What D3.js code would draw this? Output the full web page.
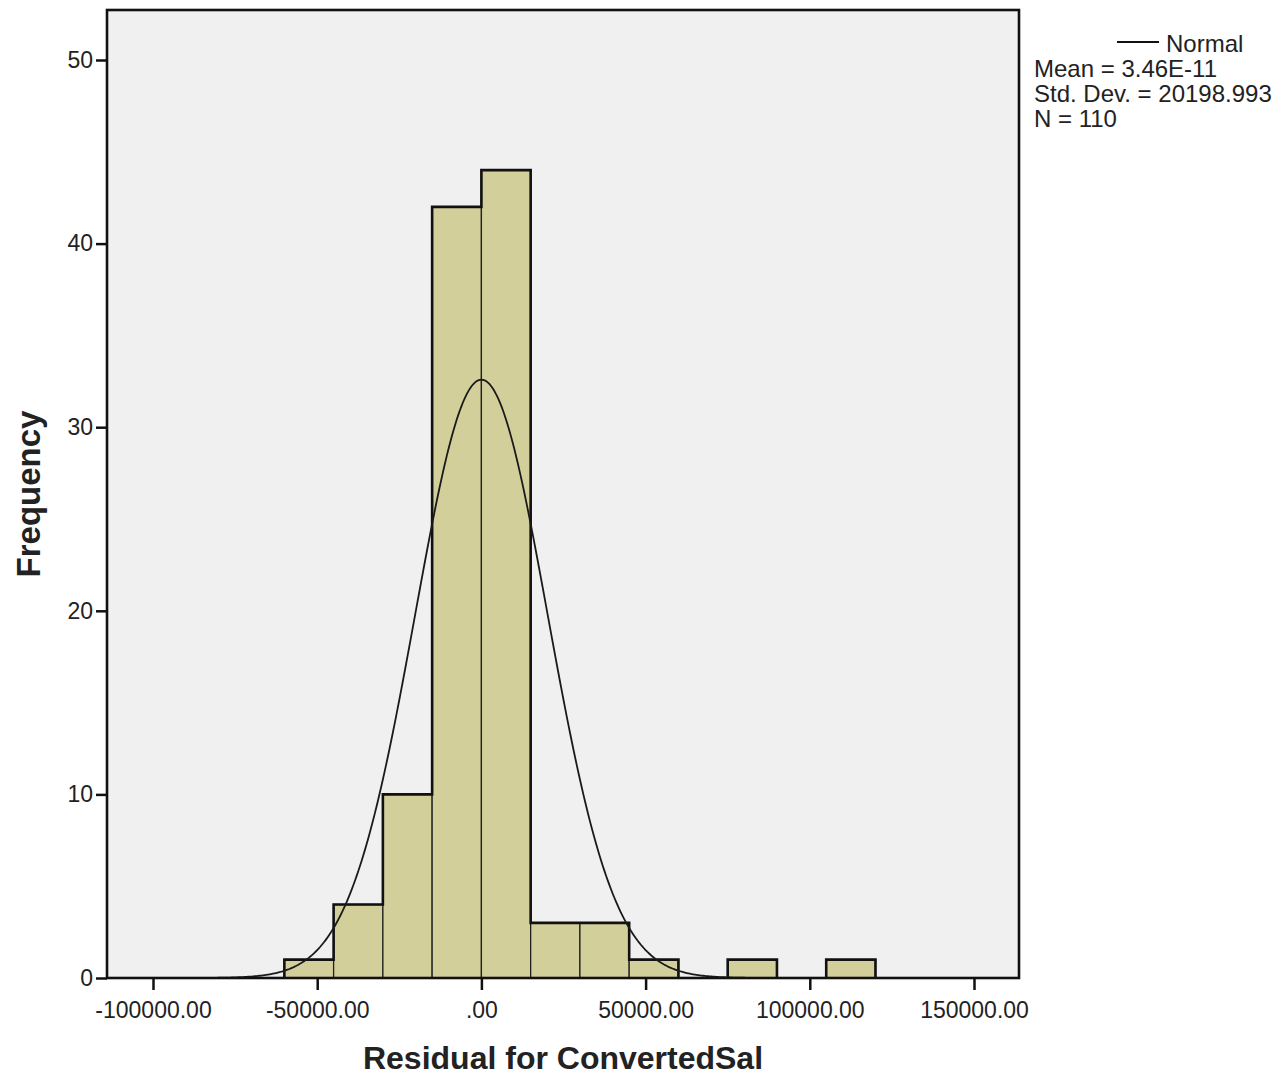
<!DOCTYPE html>
<html>
<head>
<meta charset="utf-8">
<script src="https://d3js.org/d3.v7.min.js"></script>
<style>
  body { margin: 0; background: #fff; }
  text { font-family: "Liberation Sans", Arial, sans-serif; fill: #222; }
</style>
</head>
<body>
<div id="chart"></div>
<script>
// histogram bins (lower edge) and counts
var binStarts = [-60000, -45000, -30000, -15000, 0, 15000, 30000, 45000, 60000, 75000, 90000, 105000];
var binWidth = 15000;
var counts = [1, 4, 10, 42, 44, 3, 3, 1, 0, 1, 0, 1];
var xTicks = [-100000, -50000, 0, 50000, 100000, 150000];
var yTicks = [0, 10, 20, 30, 40, 50];
var mean = 3.46e-11, sd = 20198.993, n = 110;
var legendLines = ['Mean = 3.46E-11', 'Std. Dev. = 20198.993', 'N = 110'];

var width = 1281, height = 1077;
var svg = d3.select('#chart').append('svg')
  .attr('width', width).attr('height', height);

var pLeft = 107, pRight = 1019, pTop = 10, pBottom = 978;

var x = d3.scaleLinear().domain([-100000, 150000]).range([153, 974]);
var y = d3.scaleLinear().domain([0, 50]).range([978, 60]);

// plot background
svg.append('rect')
  .attr('x', pLeft).attr('y', pTop)
  .attr('width', pRight - pLeft).attr('height', pBottom - pTop)
  .attr('fill', '#f0f0f0');

var bins = binStarts.map(function(s, i) { return { x0: s, x1: s + binWidth, c: counts[i] }; })
  .filter(function(d) { return d.c > 0; });

// bars with thin dividers
svg.selectAll('rect.bar')
  .data(bins)
  .enter()
  .append('rect')
  .attr('class', 'bar')
  .attr('x', function(d) { return x(d.x0); })
  .attr('y', function(d) { return y(d.c); })
  .attr('width', function(d) { return x(d.x1) - x(d.x0); })
  .attr('height', function(d) { return y(0) - y(d.c); })
  .attr('fill', '#d3cf9b')
  .attr('stroke', '#222')
  .attr('stroke-width', 1.3);

// thick outline of each run of non-empty bins
var groups = [], cur = null;
binStarts.forEach(function(s, i) {
  if (counts[i] > 0) {
    if (!cur) { cur = []; groups.push(cur); }
    cur.push({ x0: s, x1: s + binWidth, c: counts[i] });
  } else cur = null;
});
groups.forEach(function(g) {
  var pts = [[x(g[0].x0), y(0)]];
  g.forEach(function(d) {
    pts.push([x(d.x0), y(d.c)]);
    pts.push([x(d.x1), y(d.c)]);
  });
  pts.push([x(g[g.length - 1].x1), y(0)]);
  svg.append('path')
    .attr('d', d3.line()(pts))
    .attr('fill', 'none')
    .attr('stroke', '#111')
    .attr('stroke-width', 2.6);
});

// normal curve from the legend stats
var xs = d3.range(x.invert(pLeft), x.invert(pRight) + 1, 500);
var curve = xs.map(function(v) {
  var z = (v - mean) / sd;
  return [x(v), y(n * binWidth * Math.exp(-0.5 * z * z) / (sd * Math.sqrt(2 * Math.PI)))];
});
svg.append('path')
  .attr('d', d3.line()(curve))
  .attr('fill', 'none')
  .attr('stroke', '#1a1a1a')
  .attr('stroke-width', 1.8);

// frame
svg.append('rect')
  .attr('x', pLeft).attr('y', pTop)
  .attr('width', pRight - pLeft).attr('height', pBottom - pTop)
  .attr('fill', 'none')
  .attr('stroke', '#111')
  .attr('stroke-width', 2.6);

// axes
var fmtX = function(v) {
  if (v === 0) return '.00';
  return (v < 0 ? '-' : '') + Math.abs(v).toFixed(2);
};
var xAxis = svg.append('g')
  .attr('transform', 'translate(0,' + pBottom + ')')
  .call(d3.axisBottom(x).tickValues(xTicks).tickFormat(fmtX).tickSize(12).tickSizeOuter(0));
xAxis.select('.domain').remove();
xAxis.selectAll('line').attr('stroke', '#111').attr('stroke-width', 2.5);
xAxis.selectAll('text')
  .attr('font-size', 23).attr('y', 40).attr('dy', null).attr('fill', '#222')
  .attr('font-family', '"Liberation Sans", Arial, sans-serif');

var yAxis = svg.append('g')
  .attr('transform', 'translate(' + pLeft + ',0)')
  .call(d3.axisLeft(y).tickValues(yTicks).tickFormat(d3.format('d')).tickSize(11).tickPadding(3).tickSizeOuter(0));
yAxis.select('.domain').remove();
yAxis.selectAll('line').attr('stroke', '#111').attr('stroke-width', 2.5);
yAxis.selectAll('text')
  .attr('font-size', 23).attr('fill', '#222')
  .attr('font-family', '"Liberation Sans", Arial, sans-serif');

// axis titles
svg.append('text')
  .attr('x', (pLeft + pRight) / 2).attr('y', 1069)
  .attr('text-anchor', 'middle')
  .attr('font-size', 32).attr('font-weight', 'bold')
  .text('Residual for ConvertedSal');

svg.append('text')
  .attr('transform', 'translate(40,' + ((pTop + pBottom) / 2) + ') rotate(-90)')
  .attr('text-anchor', 'middle')
  .attr('font-size', 33).attr('font-weight', 'bold')
  .text('Frequency');

// legend
svg.append('line')
  .attr('x1', 1117).attr('x2', 1159).attr('y1', 42).attr('y2', 42)
  .attr('stroke', '#111').attr('stroke-width', 1.8);
svg.append('text')
  .attr('x', 1166).attr('y', 52)
  .attr('font-size', 24)
  .text('Normal');
svg.selectAll('text.leg')
  .data(legendLines)
  .enter()
  .append('text')
  .attr('class', 'leg')
  .attr('x', 1034)
  .attr('y', function(d, i) { return 77 + i * 25; })
  .attr('font-size', 24)
  .text(function(d) { return d; });
</script>
</body>
</html>
